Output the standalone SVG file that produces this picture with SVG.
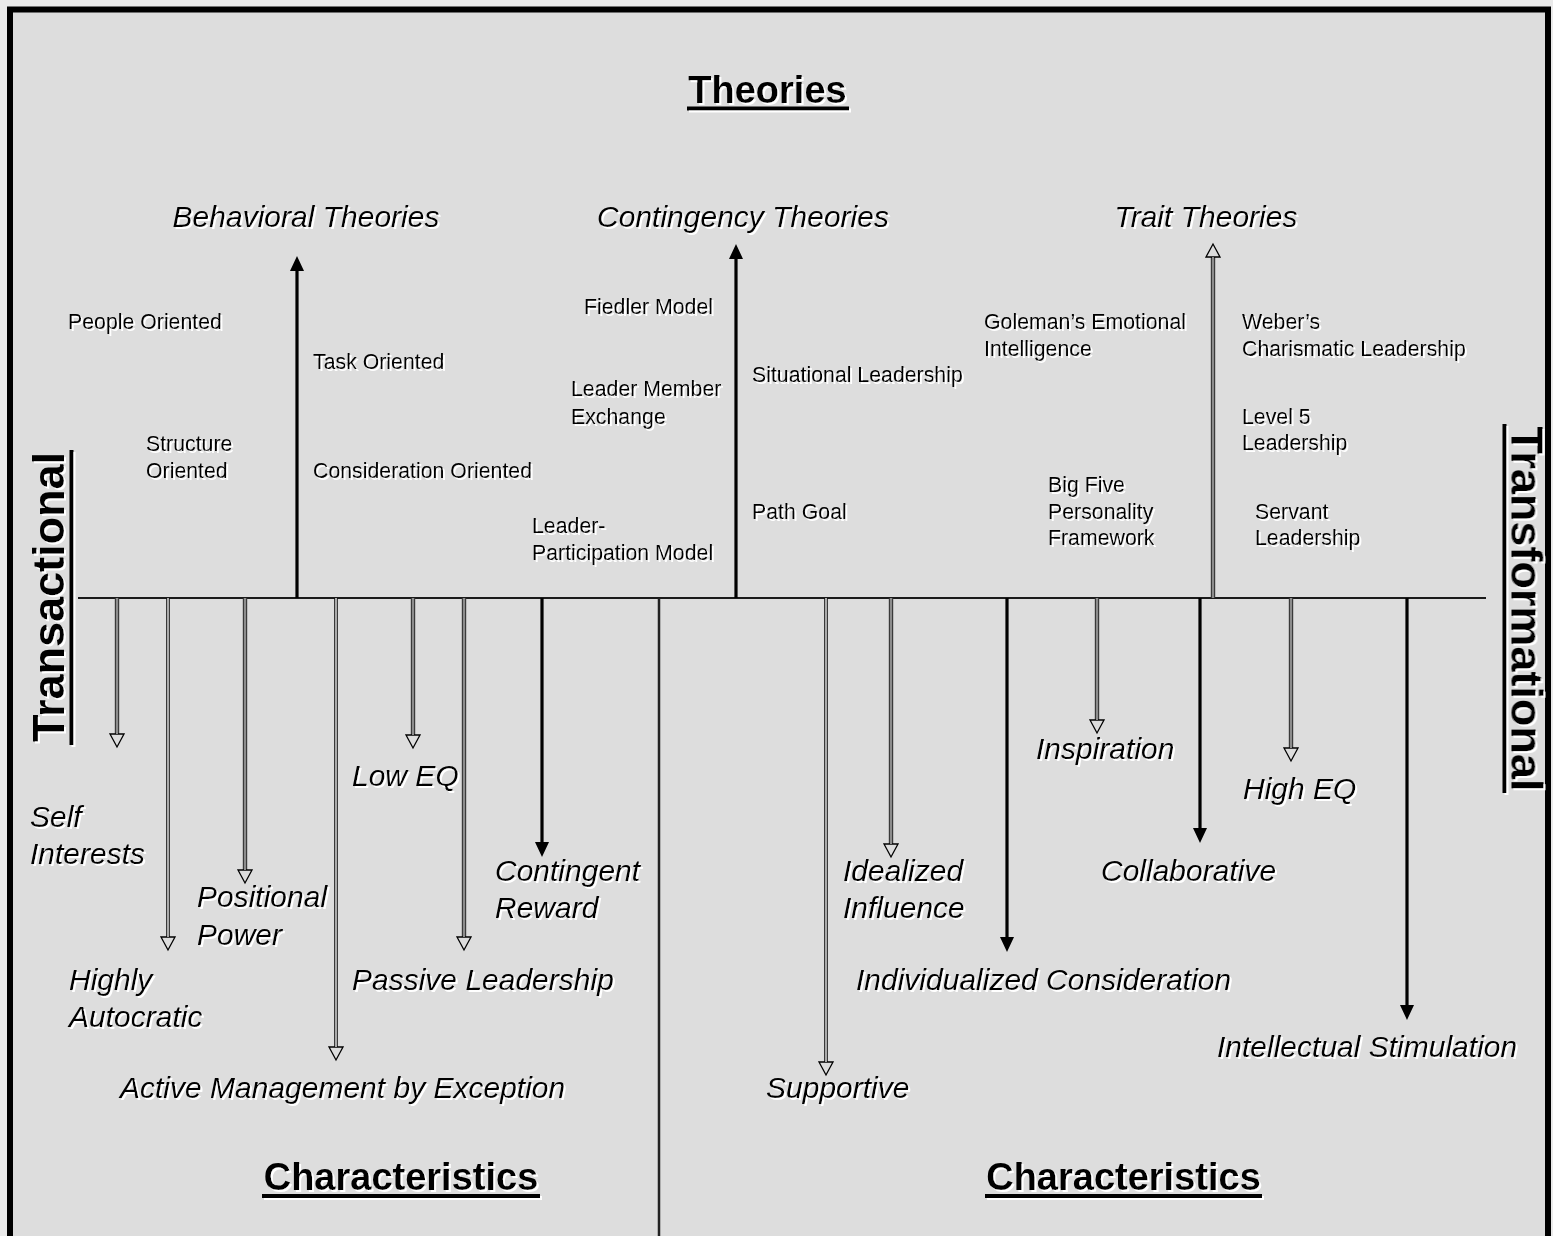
<svg xmlns="http://www.w3.org/2000/svg" width="1553" height="1236" viewBox="0 0 1553 1236">
<style>
text{font-family:"Liberation Sans",Arial,sans-serif;fill:#000}
.ttl{font-size:38px;font-weight:bold}
.side{font-size:45px;font-weight:bold}
.hd{font-size:30px;font-style:italic}
.ch{font-size:30px;font-style:italic}
.sm{font-size:21.3px}
.ul{stroke:#000;stroke-width:4}
.solid{stroke:#000;stroke-width:3.2;marker-end:url(#filled)}
.gout{stroke:#3a3a3a;stroke-width:4.4;marker-end:url(#hollow)}
.gin{stroke:#8c8c8c;stroke-width:2}
.wout{stroke:#111;stroke-width:3.6;marker-end:url(#hollow)}
.win{stroke:#ececec;stroke-width:1.4}
</style>
<defs>
<filter id="sh" x="-10%" y="-20%" width="120%" height="140%">
<feOffset in="SourceAlpha" dx="1.5" dy="1.5" result="o"/>
<feFlood flood-color="#ffffff"/>
<feComposite in2="o" operator="in" result="w"/>
<feMerge><feMergeNode in="w"/><feMergeNode in="SourceGraphic"/></feMerge>
</filter>
<marker id="filled" markerUnits="userSpaceOnUse" markerWidth="16" markerHeight="16" refX="0" refY="7" orient="auto" overflow="visible">
<path d="M0,0 L15,7 L0,14 Z" fill="#000"/>
</marker>
<marker id="hollow" markerUnits="userSpaceOnUse" markerWidth="18" markerHeight="18" refX="1" refY="8" orient="auto" overflow="visible">
<path d="M1,1 L14,8 L1,15 Z" fill="#dddddd" stroke="#000" stroke-width="1.3"/>
</marker>
</defs>
<rect x="0" y="0" width="1553" height="1236" fill="#eaeaea"/>
<rect id="frame" x="10" y="9.5" width="1538" height="1250" fill="#dddddd" stroke="#000" stroke-width="6"/>

<g id="connectors">
<line x1="78" y1="598" x2="1486" y2="598" stroke="#1a1a1a" stroke-width="2"/>
<line x1="659" y1="598" x2="659" y2="1236" stroke="#222" stroke-width="2.5"/>
<!-- up arrows -->
<line class="solid" x1="297" y1="598" x2="297" y2="271"/>
<line class="solid" x1="736" y1="598" x2="736" y2="259"/>
<line class="gout" x1="1213" y1="598" x2="1213" y2="257"/><line class="gin" x1="1213" y1="598" x2="1213" y2="257"/>
<!-- down hollow gray -->
<line class="gout" x1="117" y1="598" x2="117" y2="734"/><line class="gin" x1="117" y1="598" x2="117" y2="734"/>
<line class="gout" x1="245" y1="598" x2="245" y2="870"/><line class="gin" x1="245" y1="598" x2="245" y2="870"/>
<line class="gout" x1="413" y1="598" x2="413" y2="735"/><line class="gin" x1="413" y1="598" x2="413" y2="735"/>
<line class="gout" x1="464" y1="598" x2="464" y2="937"/><line class="gin" x1="464" y1="598" x2="464" y2="937"/>
<line class="gout" x1="891" y1="598" x2="891" y2="844"/><line class="gin" x1="891" y1="598" x2="891" y2="844"/>
<line class="gout" x1="1097" y1="598" x2="1097" y2="720"/><line class="gin" x1="1097" y1="598" x2="1097" y2="720"/>
<line class="gout" x1="1291" y1="598" x2="1291" y2="748"/><line class="gin" x1="1291" y1="598" x2="1291" y2="748"/>
<!-- down white-centre -->
<line class="wout" x1="168" y1="598" x2="168" y2="937"/><line class="win" x1="168" y1="598" x2="168" y2="937"/>
<line class="wout" x1="336" y1="598" x2="336" y2="1047"/><line class="win" x1="336" y1="598" x2="336" y2="1047"/>
<line class="wout" x1="826" y1="598" x2="826" y2="1062"/><line class="win" x1="826" y1="598" x2="826" y2="1062"/>
<!-- down solid -->
<line class="solid" x1="542" y1="598" x2="542" y2="842"/>
<line class="solid" x1="1007" y1="598" x2="1007" y2="937"/>
<line class="solid" x1="1200" y1="598" x2="1200" y2="828"/>
<line class="solid" x1="1407" y1="598" x2="1407" y2="1005"/>
</g>

<g filter="url(#sh)">
<g id="title-theories"><text class="ttl" x="767.5" y="102.5" text-anchor="middle">Theories</text><line class="ul" x1="687" y1="108.5" x2="849" y2="108.5"/></g>
<g id="title-char-left"><text class="ttl" x="401" y="1190" text-anchor="middle">Characteristics</text><line class="ul" x1="262" y1="1196" x2="540" y2="1196"/></g>
<g id="title-char-right"><text class="ttl" x="1123.5" y="1190" text-anchor="middle">Characteristics</text><line class="ul" x1="985" y1="1196" x2="1262" y2="1196"/></g>
<g id="transactional"><text class="side" transform="translate(64,597) rotate(-90)" text-anchor="middle">Transactional</text><line class="ul" x1="71.5" y1="450" x2="71.5" y2="745"/></g>
<g id="transformational"><text class="side" transform="translate(1511.5,609) rotate(90)" text-anchor="middle">Transformational</text><line class="ul" x1="1504.5" y1="424" x2="1504.5" y2="793"/></g>

<g id="behavioral"><text class="hd" x="306" y="227" text-anchor="middle">Behavioral Theories</text></g>
<g id="contingency"><text class="hd" x="743" y="227" text-anchor="middle">Contingency Theories</text></g>
<g id="trait"><text class="hd" x="1206" y="227" text-anchor="middle">Trait Theories</text></g>

<g id="people"><text class="sm" x="68" y="329">People Oriented</text></g>
<g id="structure"><text class="sm" x="146" y="451">Structure</text><text class="sm" x="146" y="478">Oriented</text></g>
<g id="task"><text class="sm" x="313" y="369">Task Oriented</text></g>
<g id="consideration"><text class="sm" x="313" y="478">Consideration Oriented</text></g>
<g id="fiedler"><text class="sm" x="584" y="314">Fiedler Model</text></g>
<g id="lmx"><text class="sm" x="571" y="396">Leader Member</text><text class="sm" x="571" y="424">Exchange</text></g>
<g id="lpm"><text class="sm" x="532" y="533">Leader-</text><text class="sm" x="532" y="560">Participation Model</text></g>
<g id="situational"><text class="sm" x="752" y="382">Situational Leadership</text></g>
<g id="pathgoal"><text class="sm" x="752" y="519">Path Goal</text></g>
<g id="goleman"><text class="sm" x="984" y="329">Goleman’s Emotional</text><text class="sm" x="984" y="356">Intelligence</text></g>
<g id="weber"><text class="sm" x="1242" y="329">Weber’s</text><text class="sm" x="1242" y="356">Charismatic Leadership</text></g>
<g id="level5"><text class="sm" x="1242" y="424">Level 5</text><text class="sm" x="1242" y="450">Leadership</text></g>
<g id="bigfive"><text class="sm" x="1048" y="492">Big Five</text><text class="sm" x="1048" y="519">Personality</text><text class="sm" x="1048" y="545">Framework</text></g>
<g id="servant"><text class="sm" x="1255" y="519">Servant</text><text class="sm" x="1255" y="545">Leadership</text></g>

<g id="self"><text class="ch" x="30" y="827">Self</text><text class="ch" x="30" y="864">Interests</text></g>
<g id="autocratic"><text class="ch" x="69" y="990">Highly</text><text class="ch" x="69" y="1027">Autocratic</text></g>
<g id="positional"><text class="ch" x="197" y="907">Positional</text><text class="ch" x="197" y="945">Power</text></g>
<g id="active"><text class="ch" x="120" y="1098">Active Management by Exception</text></g>
<g id="loweq"><text class="ch" x="352" y="786">Low EQ</text></g>
<g id="passive"><text class="ch" x="352" y="990">Passive Leadership</text></g>
<g id="contingent"><text class="ch" x="495" y="881">Contingent</text><text class="ch" x="495" y="918">Reward</text></g>
<g id="idealized"><text class="ch" x="843" y="881">Idealized</text><text class="ch" x="843" y="918">Influence</text></g>
<g id="supportive"><text class="ch" x="766" y="1098">Supportive</text></g>
<g id="individualized"><text class="ch" x="856" y="990">Individualized Consideration</text></g>
<g id="inspiration"><text class="ch" x="1036" y="759">Inspiration</text></g>
<g id="collaborative"><text class="ch" x="1101" y="881">Collaborative</text></g>
<g id="higheq"><text class="ch" x="1243" y="799">High EQ</text></g>
<g id="intellectual"><text class="ch" x="1217" y="1057">Intellectual Stimulation</text></g>
</g>
</svg>
